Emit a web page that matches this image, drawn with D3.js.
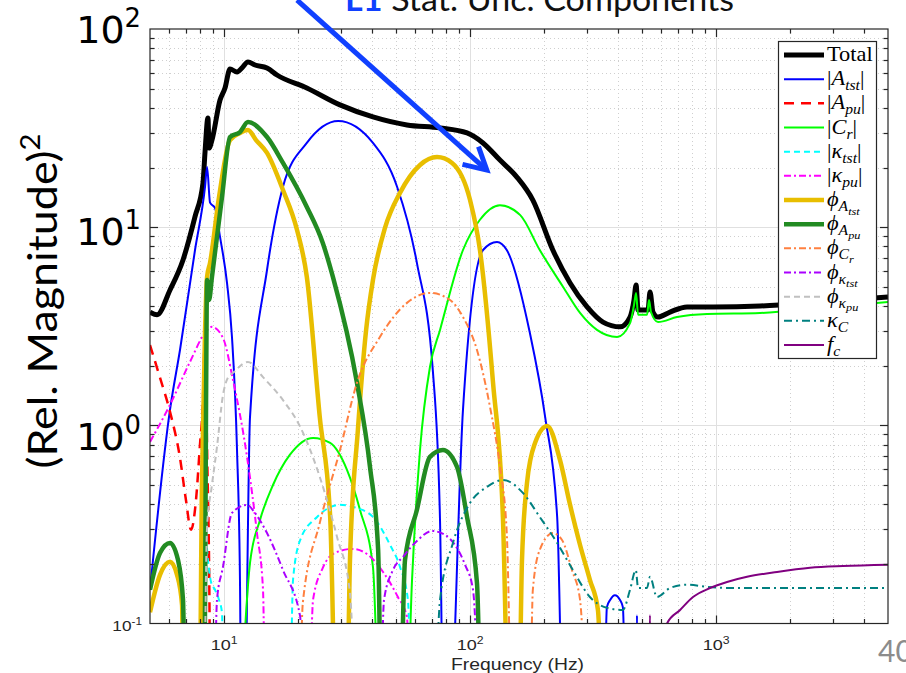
<!DOCTYPE html>
<html>
<head>
<meta charset="utf-8">
<script src="https://cdn.jsdelivr.net/npm/d3@7"></script>
<style>
  html, body { margin: 0; padding: 0; background: #fff; }
  svg { display: block; }
</style>
</head>
<body>
<svg id="chart" width="906" height="673"></svg>
<script>
// ---- data: [frequency (Hz), (relative magnitude)^2] ----
const total = [[5.00,3.73],[5.34,3.61],[6.03,4.82],[6.81,6.83],[7.62,11.3],[8.21,16.7],[8.37,24.0],[8.60,35.6],[8.69,25.1],[8.93,27.5],[9.63,43.8],[10.09,50.4],[10.57,62.8],[11.29,60.7],[11.83,63.6],[12.51,68.2],[13.36,65.8],[14.95,63.6],[16.41,58.6],[21.7,50.4],[29.6,41.4],[40.3,36.0],[55.4,32.8],[75.5,31.7],[97.2,29.9],[112.9,26.6],[132.3,21.8],[155,17.9],[180,13.7],[217,7.67],[255,5.23],[299,3.96],[347,3.32],[407,3.14],[447,3.52],[464,4.29],[473,5.11],[482,3.82],[529,3.82],[539,4.71],[554,3.73],[581,3.52],[650,3.73],[762,3.96],[972,3.96],[1509,4.00],[2646,4.19],[5000,4.44]];

const aTst = [[5.00,0.148],[6.03,1.20],[6.62,2.40],[7.62,7.67],[8.37,16.0],[8.53,20.1],[8.77,13.3],[9.19,12.5],[9.63,8.93],[10.28,5.23],[10.77,2.79],[11.29,0.75],[11.61,0.16],[11.78,0.02],
  [12.05,0.02],[12.75,1.10],[14.95,6.08],[17.36,16.0],[21.7,26.6],[29.1,34.3],[40.3,26.6],[50.5,16.0],[60.8,6.60],[70.7,1.84],[75.5,0.33],[78.3,0.02],
  [81.3,0.02],[93.6,1.20],[112.9,7.67],[128.7,8.42],[141,7.67],[175,2.93],[202,1.10],[226,0.345],[241,0.02],
  [347,0.02],[360,0.121],[371,0.1315],[388,0.139],[407,0.1315],[418,0.121],[434,0.02],
  [473,0.02],[477,0.11],[482,0.02],[5000,0.02]];

const aPu = [[5.00,2.54],[5.49,1.74],[6.03,1.17],[6.62,0.685],[7.00,0.42],[7.34,0.297],[7.69,0.42],[7.98,0.796],[8.21,1.34],[8.37,3.03],[8.53,0.751],[8.69,0.209],[8.85,0.02],[5000,0.02]];

const cR = [[11.4,0.02],[12.75,0.202],[14.0,0.333],[15.81,0.50],[18.5,0.709],[23.0,0.864],[27.0,0.815],[31.6,0.596],[35.7,0.374],[40.3,0.193],[43.5,0.02],
  [54.4,0.02],[58.1,0.166],[62.6,0.751],[68.7,1.97],[75.5,3.03],[93.6,7.67],[109.7,10.9],[132.3,12.9],[160,11.5],[192,7.67],[239,4.99],[280,3.69],[328,3.03],[396,2.79],[447,3.28],[464,4.05],[473,4.66],[482,3.61],[524,3.61],[534,4.29],[544,3.73],[581,3.32],[694,3.52],[919,3.65],[1509,3.69],[2646,3.91],[5000,4.19]];

const kTst = [[8.21,0.02],[8.45,0.264],[8.60,0.209],[8.85,0.162],[9.19,0.148],[9.54,0.1315],[9.81,0.113],[10.0,0.02],
  [18.37,0.02],[19.07,0.166],[20.4,0.264],[23.9,0.345],[29.6,0.397],[34.1,0.385],[40.3,0.345],[47.3,0.249],[51.9,0.193],[55.9,0.1315],[58.1,0.02]];

const kPu = [[5.00,0.825],[6.03,1.27],[7.27,2.09],[8.37,2.93],[8.93,3.14],[9.90,2.76],[10.88,1.69],[12.40,0.693],[13.61,0.286],[14.4,0.148],[14.81,0.02],
  [21.9,0.02],[23.0,0.1315],[25.2,0.191],[28.2,0.227],[33.4,0.238],[38.5,0.222],[44.3,0.182],[50.9,0.136],[55.4,0.108],[57.0,0.02]];

const phiATst = [[5.00,0.114],[5.49,0.176],[6.03,0.205],[6.44,0.176],[6.75,0.124],[6.87,0.02],
  [7.91,0.02],[8.13,0.5],[8.37,3.0],[8.53,5.6],[8.77,6.6],[9.54,14.2],[10.57,27.5],[11.61,29.9],[12.51,30.9],[13.49,27.5],[14.95,23.7],[17.36,15.4],[19.8,9.68],[21.7,5.61],[24.5,1.10],[27.0,0.345],[28.8,0.02],
  [31.3,0.02],[32.5,0.209],[35.0,0.948],[37.8,3.03],[40.3,5.42],[45.1,9.91],[51.9,14.9],[62.6,20.6],[73.4,22.6],[84.5,21.1],[100,13.7],[109.7,7.67],[124,1.64],[136,0.345],[145,0.02],
  [156.6,0.02],[162.6,0.209],[170.4,0.512],[183.7,0.815],[206,0.993],[232,0.669],[255,0.397],[280,0.249],[307,0.166],[331,0.117],[347,0.02]];

const phiAPu = [[5.00,0.148],[5.49,0.227],[6.03,0.255],[6.50,0.209],[6.81,0.1315],[7.00,0.02],
  [8.29,0.02],[8.45,1.34],[8.53,5.42],[8.69,4.29],[8.93,5.61],[9.81,14.2],[10.57,28.5],[11.61,30.2],[12.51,33.9],[14.95,28.5],[17.36,21.1],[21.7,12.65],[25.2,8.32],[27.7,5.61],[34.7,1.64],[39.2,0.617],[42.3,0.235],[43.9,0.02],
  [51.4,0.02],[54.4,0.209],[60.8,0.374],[68.7,0.693],[77.6,0.751],[88.5,0.617],[97.2,0.345],[106.7,0.160],[110.8,0.02]];

const phiCr = [[20.2,0.02],[20.9,0.127],[24.5,0.322],[29.6,0.751],[34.7,1.64],[43.0,2.79],[55.4,4.15],[68.7,4.66],[82.9,4.29],[93.6,3.52],[106.7,2.40],[120.5,1.24],[132.3,0.617],[141,0.286],[149.5,0.02],
  [173.6,0.02],[180,0.148],[192,0.235],[217,0.286],[236.5,0.264],[259.6,0.186],[280,0.1315],[299,0.02]];

const phiKTst = [[9.10,0.02],[9.36,0.1315],[9.90,0.193],[10.77,0.361],[12.40,0.397],[13.36,0.361],[14.95,0.286],[17.36,0.186],[20.4,0.108],[20.9,0.02],
  [42.6,0.02],[44.7,0.1315],[48.6,0.186],[53.4,0.217],[61.4,0.264],[70.0,0.293],[79.1,0.280],[86.8,0.249],[95.4,0.198],[102.8,0.148],[109.7,0.02]];

const phiKPu = [[8.29,0.02],[8.53,0.307],[8.93,0.50],[9.36,0.778],[9.90,1.42],[10.37,1.74],[10.88,1.84],[12.51,2.09],[14.4,1.75],[17.36,1.34],[20.4,0.982],[24.5,0.549],[28.8,0.273],[32.5,0.143],[34.4,0.02]];

const kC = [[71.4,0.02],[75.5,0.1315],[85.2,0.255],[100,0.406],[117.2,0.489],[136,0.530],[164,0.456],[192,0.345],[226,0.255],[262,0.186],[307,0.136],[360,0.120],[418,0.117],[447,0.148],[472,0.186],[482,0.151],[524,0.151],[539,0.172],[575,0.136],[650,0.151],[762,0.157],[919,0.153],[1140,0.151],[5000,0.151]];

const fC = [[529,0.02],[539,0.11],[549,0.02],[592,0.08],[632,0.1],[714,0.117],[806,0.136],[945,0.151],[1108,0.162],[1337,0.172],[1770,0.182],[2410,0.191],[3281,0.195],[5000,0.198]];

// tick values
const xMajorTicks = [10, 100, 1000];
const xTickExponents = ["1", "2", "3"];
const yMajorTicks = [1, 10];
const yBigLabels = ["2", "1", "0"];

// arrow annotation (data coordinates: Hz, magnitude^2)
const arrowTail = [19.8, 140];
const arrowHead = [117, 19.4];

// ---- drawing ----
const svg = d3.select("#chart");
const X0 = 150, X1 = 888, Y0 = 29, Y1 = 623.5;
const x = d3.scaleLog().domain([5, 5000]).range([X0, X1]);
const y = d3.scaleLog().domain([0.1, 100]).range([Y1, Y0]);
const crisp = v => Math.round(v) + 0.5;

svg.append("rect").attr("width", 906).attr("height", 673).attr("fill", "#fff");

const minorX = [], minorY = [];
[1, 10, 100, 1000].forEach(d => { for (let k = 2; k <= 9; k++) { const v = k * d; if (v > 5 && v < 5000) minorX.push(v); } });
[0.1, 1, 10].forEach(d => { for (let k = 2; k <= 9; k++) minorY.push(+(k * d).toPrecision(3)); });

// grid
const grid = svg.append("g");
grid.selectAll(".gmx").data(minorX).join("line")
  .attr("x1", d => crisp(x(d))).attr("x2", d => crisp(x(d))).attr("y1", Y0).attr("y2", Y1)
  .attr("stroke", "#cfcfcf").attr("stroke-width", 1).attr("stroke-dasharray", "1,3");
grid.selectAll(".gmy").data(minorY).join("line")
  .attr("y1", d => crisp(y(d))).attr("y2", d => crisp(y(d))).attr("x1", X0).attr("x2", X1)
  .attr("stroke", "#cfcfcf").attr("stroke-width", 1).attr("stroke-dasharray", "1,3");
grid.selectAll(".gMx").data(xMajorTicks).join("line")
  .attr("x1", d => crisp(x(d))).attr("x2", d => crisp(x(d))).attr("y1", Y0).attr("y2", Y1)
  .attr("stroke", "#e0e0e0").attr("stroke-width", 1);
grid.selectAll(".gMy").data(yMajorTicks).join("line")
  .attr("y1", d => crisp(y(d))).attr("y2", d => crisp(y(d))).attr("x1", X0).attr("x2", X1)
  .attr("stroke", "#e0e0e0").attr("stroke-width", 1);

// series
const series = [
  { name: "total",   data: total,   color: "#000000", width: 5,   dash: null },
  { name: "aTst",    data: aTst,    color: "#0000ff", width: 2,   dash: null },
  { name: "aPu",     data: aPu,     color: "#ff0000", width: 2.5, dash: "10,7" },
  { name: "cR",      data: cR,      color: "#00ff00", width: 2,   dash: null },
  { name: "kTst",    data: kTst,    color: "#00ffff", width: 2,   dash: "6,4" },
  { name: "kPu",     data: kPu,     color: "#ff00ff", width: 2,   dash: "7,3,2,3" },
  { name: "phiATst", data: phiATst, color: "#e8be00", width: 4.5, dash: null },
  { name: "phiAPu",  data: phiAPu,  color: "#228b22", width: 4.5, dash: null },
  { name: "phiCr",   data: phiCr,   color: "#ff8040", width: 2,   dash: "7,3,2,3" },
  { name: "phiKTst", data: phiKTst, color: "#aa00ff", width: 2,   dash: "7,3,2,3" },
  { name: "phiKPu",  data: phiKPu,  color: "#c0c0c0", width: 2,   dash: "6,4" },
  { name: "kC",      data: kC,      color: "#008080", width: 2,   dash: "8,4,2,4" },
  { name: "fC",      data: fC,      color: "#800080", width: 2,   dash: null }
];

svg.append("clipPath").attr("id", "plotClip").append("rect")
  .attr("x", X0).attr("y", Y0).attr("width", X1 - X0).attr("height", Y1 - Y0);

const line = d3.line().x(d => x(d[0])).y(d => y(d[1])).curve(d3.curveMonotoneX);
const plot = svg.append("g").attr("clip-path", "url(#plotClip)");
series.forEach(s => {
  plot.append("path").attr("d", line(s.data)).attr("fill", "none")
    .attr("stroke", s.color).attr("stroke-width", s.width)
    .attr("stroke-linejoin", "round")
    .attr("stroke-dasharray", s.dash);
});

// axes box and inward ticks
const axisColor = "#262626";
const ax = svg.append("g").attr("stroke", axisColor).attr("stroke-width", 1.2);
ax.append("rect").attr("x", X0).attr("y", Y0).attr("width", X1 - X0).attr("height", Y1 - Y0).attr("fill", "none");
const tickMaj = 8, tickMin = 4.5;
const xTicks = xMajorTicks.map(v => [v, tickMaj]).concat(minorX.filter(v => !xMajorTicks.includes(v)).map(v => [v, tickMin]));
const yTicks = yMajorTicks.map(v => [v, tickMaj]).concat(minorY.map(v => [v, tickMin]));
xTicks.forEach(([v, L]) => {
  const px = crisp(x(v));
  ax.append("line").attr("x1", px).attr("x2", px).attr("y1", Y1).attr("y2", Y1 - L);
  ax.append("line").attr("x1", px).attr("x2", px).attr("y1", Y0).attr("y2", Y0 + L);
});
yTicks.forEach(([v, L]) => {
  const py = crisp(y(v));
  ax.append("line").attr("y1", py).attr("y2", py).attr("x1", X0).attr("x2", X0 + L);
  ax.append("line").attr("y1", py).attr("y2", py).attr("x1", X1).attr("x2", X1 - L);
});

// power-of-ten label helper
function powLabel(px, py, exp, size, anchor, family, sx, fill) {
  const t = svg.append("text")
    .attr("transform", `translate(${px},${py}) scale(${sx},1)`)
    .attr("text-anchor", anchor).attr("font-family", family)
    .attr("font-size", size).attr("fill", fill);
  t.append("tspan").text("10");
  t.append("tspan").text(exp).attr("font-size", size * 0.68).attr("dy", -size * 0.42);
  return t;
}

xMajorTicks.forEach((v, i) => powLabel(x(v), 650, xTickExponents[i], 15, "middle", "Liberation Sans, Arial, sans-serif", 1.2, axisColor));
powLabel(142, 631, "-1", 15, "end", "Liberation Sans, Arial, sans-serif", 1.15, axisColor);

const bigBase = { "2": 43, "1": 245, "0": 450 };
yBigLabels.forEach(e => powLabel(141, bigBase[e], e, 38, "end", "DejaVu Sans, Verdana, sans-serif", 1.0, "#000"));

// x-axis label
svg.append("text").attr("x", 451).attr("y", 670)
  .attr("font-family", "Liberation Sans, Arial, sans-serif").attr("font-size", 17)
  .attr("fill", axisColor).attr("textLength", 133).attr("lengthAdjust", "spacingAndGlyphs")
  .text("Frequency (Hz)");

// y-axis label
const yl = svg.append("text")
  .attr("transform", "translate(57,301) rotate(-90)")
  .attr("text-anchor", "middle").attr("font-family", "Lato, Open Sans, sans-serif")
  .attr("font-size", 40).attr("fill", "#000")
  .attr("textLength", 335).attr("lengthAdjust", "spacingAndGlyphs");
yl.append("tspan").text("(Rel. Magnitude)");
yl.append("tspan").text("2").attr("font-size", 26).attr("dy", -17);

// title
const title = svg.append("text").attr("x", 345).attr("y", 11)
  .attr("font-family", "Lato, Open Sans, sans-serif").attr("font-size", 32)
  .attr("textLength", 389).attr("lengthAdjust", "spacingAndGlyphs");
title.append("tspan").text("L1").attr("font-weight", "bold").attr("fill", "#1040ff");
title.append("tspan").text(" Stat. Unc. Components").attr("fill", "#111");

// slide number
svg.append("text").attr("x", 878).attr("y", 662)
  .attr("font-family", "Lato, Open Sans, sans-serif").attr("font-size", 30)
  .attr("fill", "#8c8c8c").text("40");

// legend
const legendParts = [
  [["Total", "r", 0]],
  [["|", "r", 0], ["A", "i", 0], ["tst", "i", 1], ["|", "r", 0]],
  [["|", "r", 0], ["A", "i", 0], ["pu", "i", 1], ["|", "r", 0]],
  [["|", "r", 0], ["C", "i", 0], ["r", "i", 1], ["|", "r", 0]],
  [["|", "r", 0], ["κ", "i", 0], ["tst", "i", 1], ["|", "r", 0]],
  [["|", "r", 0], ["κ", "i", 0], ["pu", "i", 1], ["|", "r", 0]],
  [["ϕ", "i", 0], ["A", "i", 1], ["tst", "i", 2]],
  [["ϕ", "i", 0], ["A", "i", 1], ["pu", "i", 2]],
  [["ϕ", "i", 0], ["C", "i", 1], ["r", "i", 2]],
  [["ϕ", "i", 0], ["κ", "i", 1], ["tst", "i", 2]],
  [["ϕ", "i", 0], ["κ", "i", 1], ["pu", "i", 2]],
  [["κ", "i", 0], ["C", "i", 1]],
  [["f", "i", 0], ["c", "i", 1]]
];
const lg = svg.append("g");
const LX = 778, LY = 41, LW = 98, LH = 317, step = 24.17;
lg.append("rect").attr("x", LX + 0.5).attr("y", LY + 0.5).attr("width", LW).attr("height", LH)
  .attr("fill", "#fff").attr("stroke", axisColor).attr("stroke-width", 1.2);
series.forEach((s, i) => {
  const cy = LY + 14 + i * step;
  lg.append("line").attr("x1", LX + 6).attr("x2", LX + 46).attr("y1", cy).attr("y2", cy)
    .attr("stroke", s.color).attr("stroke-width", s.width).attr("stroke-dasharray", s.dash);
  const t = lg.append("text").attr("transform", `translate(${LX + 49},${cy + 6}) scale(1.12,1)`)
    .attr("font-family", "Liberation Serif, DejaVu Serif, serif").attr("font-size", 20).attr("fill", "#000");
  let cur = 0;
  legendParts[i].forEach(([txt, st, lvl]) => {
    const off = [0, 5, 8.5][lvl];
    const fs = [20, 14, 11][lvl];
    t.append("tspan").text(txt).attr("font-style", st === "i" ? "italic" : "normal")
      .attr("font-size", fs).attr("dy", off - cur);
    cur = off;
  });
});

// arrow annotation
const ax0 = x(arrowTail[0]), ay0 = y(arrowTail[1]);
const ax1 = x(arrowHead[0]), ay1 = y(arrowHead[1]);
const ang = Math.atan2(ay1 - ay0, ax1 - ax0);
const wl = 25, wa = 0.5;
const w1 = [ax1 - wl * Math.cos(ang - wa), ay1 - wl * Math.sin(ang - wa)];
const w2 = [ax1 - wl * Math.cos(ang + wa), ay1 - wl * Math.sin(ang + wa)];
const arrowColor = "#1040ff";
svg.append("line").attr("x1", ax0).attr("y1", ay0).attr("x2", ax1 - 2 * Math.cos(ang)).attr("y2", ay1 - 2 * Math.sin(ang))
  .attr("stroke", arrowColor).attr("stroke-width", 5);
svg.append("path").attr("d", `M${w1[0]},${w1[1]}L${ax1},${ay1}L${w2[0]},${w2[1]}`)
  .attr("fill", "none").attr("stroke", arrowColor).attr("stroke-width", 5)
  .attr("stroke-linejoin", "miter").attr("stroke-linecap", "butt");
</script>
</body>
</html>
